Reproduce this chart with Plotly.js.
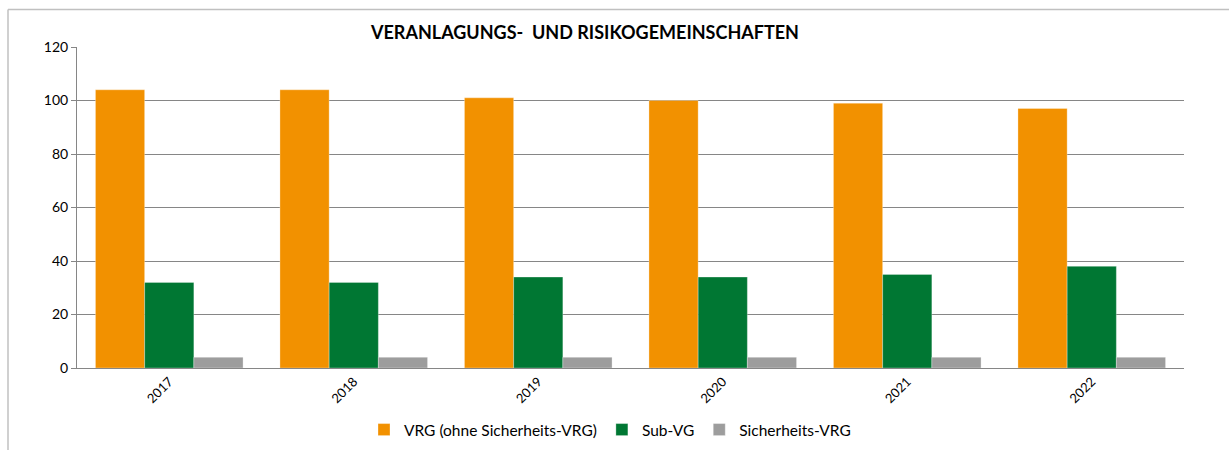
<!DOCTYPE html>
<html>
<head>
<meta charset="utf-8">
<script src="https://cdn.plot.ly/plotly-3.0.1.min.js"></script>
<style>html,body{margin:0;padding:0;background:#fff;}#chart{width:1229px;height:450px;}</style>
</head>
<body>
<div id="chart"></div>
<script>
const years = ["2017", "2018", "2019", "2020", "2021", "2022"];
const seriesNames = ["VRG (ohne Sicherheits-VRG)", "Sub-VG", "Sicherheits-VRG"];
const vrg = [104, 104, 101, 100, 99, 97];
const subVG = [32, 32, 34, 34, 35, 38];
const sicherheitsVRG = [4, 4, 4, 4, 4, 4];
const yTicks = [0, 20, 40, 60, 80, 100, 120];

const colors = ["#F29100", "#007733", "#9D9D9D"];
const FONT = "Lato, 'Open Sans', sans-serif";

const traces = [vrg, subVG, sicherheitsVRG].map((vals, i) => ({
  type: "bar",
  name: seriesNames[i],
  x: years,
  y: vals,
  marker: {color: colors[i], line: {color: "rgba(255,255,255,0.6)", width: 0.5}},
  hoverinfo: "x+y+name"
}));

const layout = {
  width: 1229, height: 450,
  margin: {l: 77, r: 45, t: 47, b: 82},
  paper_bgcolor: "#fff", plot_bgcolor: "#fff",
  font: {family: FONT, size: 13, color: "#000"},
  title: {
    text: "<b>VERANLAGUNGS-  UND RISIKOGEMEINSCHAFTEN</b>",
    font: {family: FONT, size: 18, color: "#000"},
    x: 0.476, xanchor: "center", xref: "container",
    y: 1 - 33 / 450, yanchor: "middle", yref: "container"
  },
  barmode: "group",
  bargap: 0.2, bargroupgap: 0,
  xaxis: {
    type: "category",
    tickangle: -45,
    automargin: false,
    showgrid: false,
    showline: true, linecolor: "#868686", linewidth: 1,
    ticks: "", tickfont: {family: FONT, size: 13, color: "#000"},
    zeroline: false, fixedrange: true
  },
  yaxis: {
    range: [0, 120],
    automargin: false,
    tickvals: yTicks,
    showgrid: true, gridcolor: "#868686", gridwidth: 1,
    showline: true, linecolor: "#868686", linewidth: 1,
    ticks: "outside", ticklen: 5, tickcolor: "#868686",
    tickfont: {family: FONT, size: 14, color: "#000"},
    zeroline: false, fixedrange: true
  },
  showlegend: true,
  legend: {
    orientation: "h",
    xref: "container", x: 610 / 1229, xanchor: "center",
    yref: "container", y: 1 - 430 / 450, yanchor: "middle",
    font: {family: FONT, size: 15.5, color: "#000"},
    itemwidth: 30, tracegroupgap: 0,
    bgcolor: "rgba(0,0,0,0)"
  },
  shapes: [
    {type: "line", xref: "paper", yref: "paper", x0: (8 - 77) / 1107, x1: (1229 - 77) / 1107, y0: (368 - 9.5) / 321, y1: (368 - 9.5) / 321, line: {color: "#C0C0C0", width: 1.5}},
    {type: "line", xref: "paper", yref: "paper", x0: (8 - 77) / 1107, x1: (8 - 77) / 1107, y0: (368 - 9.5) / 321, y1: (368 - 450) / 321, line: {color: "#C0C0C0", width: 1.5}}
  ]
};

Plotly.newPlot("chart", traces, layout, {displayModeBar: false, staticPlot: true});
</script>
</body>
</html>
